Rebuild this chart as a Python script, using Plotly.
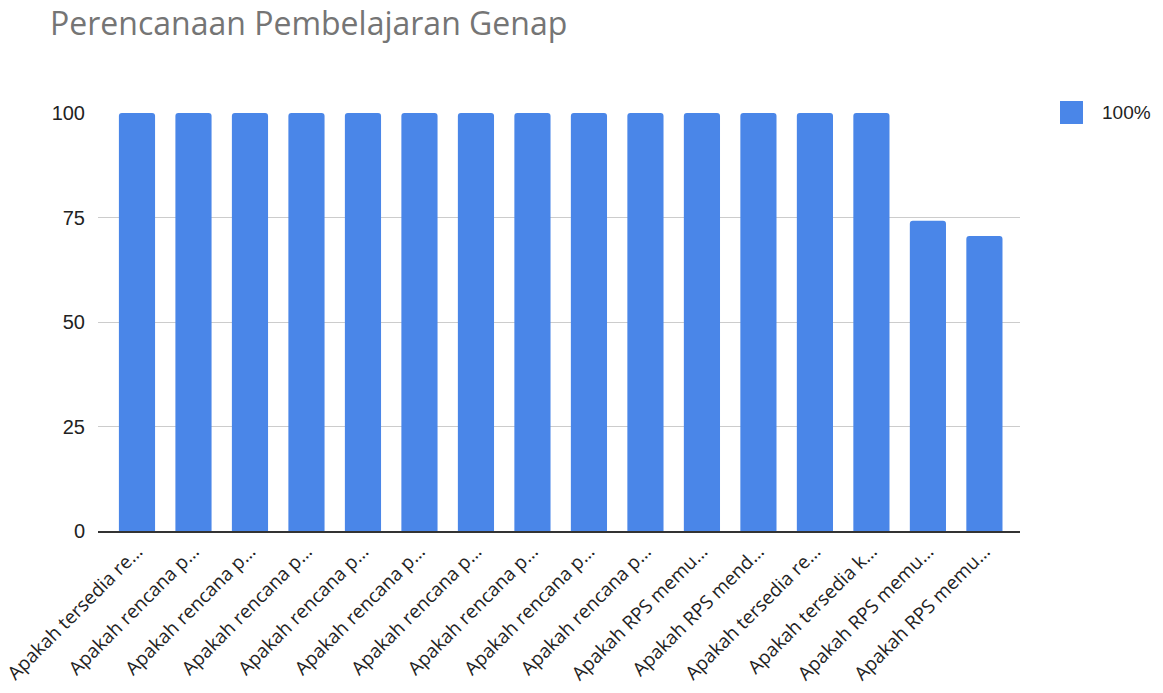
import plotly.graph_objects as go

# Question labels as shown (truncated) on the x axis
labels = [
    "Apakah tersedia re…",
    "Apakah rencana p…",
    "Apakah rencana p…",
    "Apakah rencana p…",
    "Apakah rencana p…",
    "Apakah rencana p…",
    "Apakah rencana p…",
    "Apakah rencana p…",
    "Apakah rencana p…",
    "Apakah rencana p…",
    "Apakah RPS memu…",
    "Apakah RPS mend…",
    "Apakah tersedia re…",
    "Apakah tersedia k…",
    "Apakah RPS memu…",
    "Apakah RPS memu…",
]
values = [100, 100, 100, 100, 100, 100, 100, 100, 100, 100, 100, 100, 100, 100, 74.2, 70.6]
positions = list(range(len(labels)))
y_ticks = [0, 25, 50, 75, 100]
series_name = "100%"
bar_color = "#4a86e8"

fig = go.Figure()

fig.add_trace(go.Bar(
    x=positions,
    y=values,
    name=series_name,
    marker=dict(color=bar_color, line=dict(width=0)),
    showlegend=False,
))

# legend drawn by hand so the swatch can be as large as in the original
fig.add_shape(
    type="rect", xref="paper", yref="paper",
    x0=1.0434, x1=1.0683, y0=0.9737, y1=1.0287,
    fillcolor=bar_color, line=dict(width=0),
)
fig.add_annotation(
    text=series_name, xref="paper", yref="paper",
    x=1.0868, y=1.0012, xanchor="left", yanchor="middle",
    showarrow=False,
    font=dict(family="Arial", size=19, color="#222222"),
)

fig.update_layout(
    title=dict(
        text="Perencanaan Pembelajaran Genap",
        font=dict(family="Open Sans", size=32, color="#757575"),
        x=0.0364, xanchor="left", y=0.993, yanchor="top",
    ),
    width=1155,
    height=685,
    margin=dict(l=90, r=143, t=105, b=162),
    paper_bgcolor="white",
    plot_bgcolor="white",
    bargap=0.36,
    barcornerradius=3,
    xaxis=dict(
        tickmode="array",
        tickvals=positions,
        ticktext=labels,
        tickangle=-45,
        range=[-0.69, 15.63],
        tickfont=dict(family="Open Sans", size=19, color="#222222"),
        ticklabeloverflow="allow",
        automargin=False,
        showgrid=False,
        showline=True,
        linecolor="#333333",
        linewidth=1.5,
        ticks="",
    ),
    yaxis=dict(
        range=[0, 100],
        tickvals=y_ticks,
        tickfont=dict(family="Arial", size=20, color="#222222"),
        automargin=False,
        gridcolor="#cccccc",
        gridwidth=1,
        zeroline=False,
        showline=False,
        ticks="",
        ticklabelstandoff=12,
    ),
)

fig.write_html("out.html")
